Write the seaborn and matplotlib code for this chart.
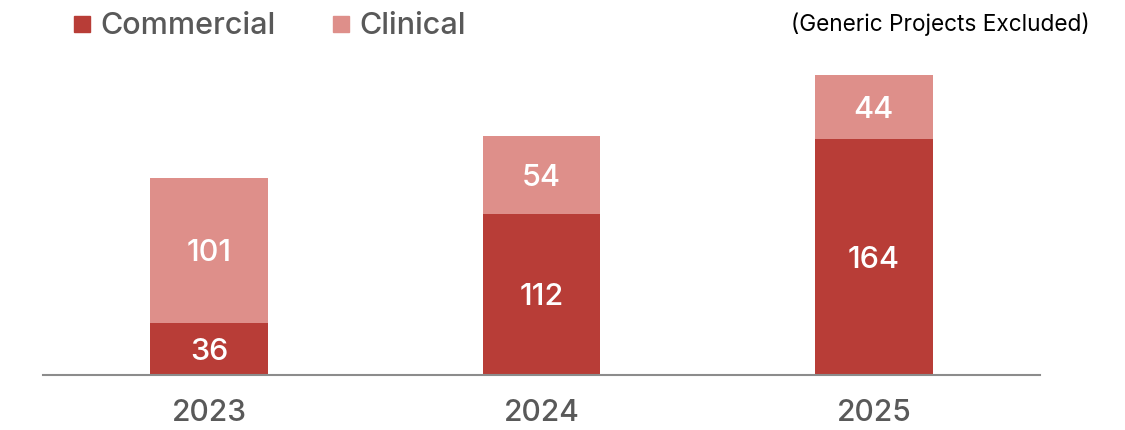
import matplotlib
matplotlib.use("Agg")
import matplotlib.pyplot as plt
import seaborn as sns
import pandas as pd
from matplotlib.lines import Line2D

# 數據
years = ["2023", "2024", "2025"]
commercial = [36, 112, 164]
clinical = [101, 54, 44]

c_com = "#B83D37"
c_cli = "#DE8F8A"
grey = "#595959"

sns.set_style("white")
plt.rcParams['font.family'] = ['Inter', 'DejaVu Sans']
plt.rcParams['font.weight'] = 'medium'

df = pd.DataFrame({"year": years, "commercial": commercial, "clinical": clinical})
df["total"] = df["commercial"] + df["clinical"]

fig = plt.figure(figsize=(11.25, 4.3), dpi=100)
ax = fig.add_axes([43 / 1125, 55 / 430, (1040 - 43) / 1125, 315 / 430])

sns.barplot(data=df, x="year", y="total", color=c_cli, width=0.354, saturation=1,
            linewidth=0, ax=ax)
sns.barplot(data=df, x="year", y="commercial", color=c_com, width=0.354, saturation=1,
            linewidth=0, ax=ax)

for i, row in df.iterrows():
    ax.text(i, row["commercial"] / 2, str(row["commercial"]), ha="center",
            va="center_baseline", color="white", fontsize=22)
    ax.text(i, row["commercial"] + row["clinical"] / 2, str(row["clinical"]), ha="center",
            va="center_baseline", color="white", fontsize=22)

ax.set_xlim(-0.5, 2.5)
ax.set_ylim(0, 218.75)
ax.set_xlabel("")
ax.set_ylabel("")
ax.set_yticks([])
for s in ["top", "right", "left"]:
    ax.spines[s].set_visible(False)
ax.spines["bottom"].set_color("#8C8C8C")
ax.spines["bottom"].set_linewidth(1.5)
ax.tick_params(axis="x", length=0, pad=17, labelsize=21.5, labelcolor=grey)

handles = [
    Line2D([], [], marker="s", linestyle="", color=c_com, markersize=12),
    Line2D([], [], marker="s", linestyle="", color=c_cli, markersize=12),
]
fig.legend(handles, ["Commercial", "Clinical"], loc="upper left",
           bbox_to_anchor=(39 / 1125, 1.035), ncol=2, frameon=False, fontsize=22,
           labelcolor=grey, handletextpad=0.1, columnspacing=1.65, handlelength=1.0)

fig.text(1090 / 1125, 1 - 24 / 430, "(Generic Projects Excluded)", ha="right", va="center",
         fontsize=16.3, color="black", fontweight="normal")

fig.savefig("out.png", dpi=100)
